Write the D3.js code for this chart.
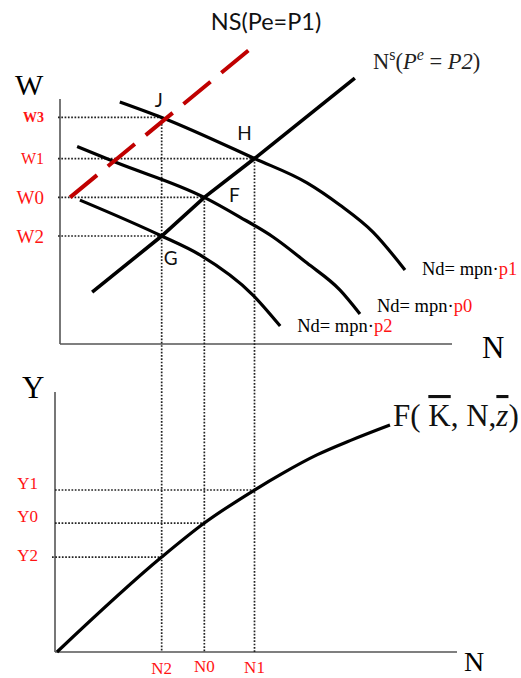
<!DOCTYPE html>
<html>
<head>
<meta charset="utf-8">
<script src="https://cdn.jsdelivr.net/npm/d3@7"></script>
<style>
  html, body { margin: 0; padding: 0; background: #fff; }
  svg { display: block; }
  .serif { font-family: "Liberation Serif", "Times New Roman", serif; }
  .sans { font-family: Lato, "Liberation Sans", Arial, sans-serif; }
</style>
</head>
<body>
<svg id="chart" width="521" height="678"></svg>
<script>
// ---- Labour market / production function data (abstract units 0..100) ----
const nNames  = ["N2", "N0", "N1"];
const nValues = [26.5, 37.3, 50];

const wNames  = ["W3", "W1", "W0", "W2"];
const wValues = [92.5, 75.8, 60, 44.3];

const yNames  = ["Y1", "Y0", "Y2"];
const yValues = [62.3, 49.6, 36.5];

// equilibrium points: [name, N index, W index]
const pointNames = ["J", "H", "F", "G"];
const pointN     = [0, 2, 1, 0];
const pointW     = [0, 1, 2, 3];

// labour demand curves Nd = mpn·p
const ndP1 = [[15.9, 98.8], [26.5, 92.5], [50, 75.8], [63.3, 65.9], [71.6, 56.9], [80, 45.9], [88.1, 30.5]];
const ndP0 = [[5.1, 80.7], [14.7, 74.4], [37.3, 60], [46.3, 52.0], [54.7, 43.9], [63.3, 33.3], [71.6, 22.4], [76.7, 12.6]];
const ndP2 = [[5.8, 58.9], [26.5, 44.3], [36.2, 36.6], [49.6, 20.3], [56.5, 7.7]];
const ndPrices = ["p1", "p0", "p2"];

// labour supply curves
const nsP2 = [[8.9, 21.5], [26.5, 44.3], [37.3, 60], [50, 75.8], [75.4, 108.5]];
const nsP1 = [[3.3, 60], [48.9, 120.3]];

// production function Y = F(K, N, z)
const prodF = [[0, 0], [26.5, 36.5], [37.3, 49.6], [50, 62.3], [57.2, 68.8], [65.8, 75.8], [74.2, 81.3], [84.3, 87.3]];

// ---- scales ----
const x  = d3.scaleLinear().domain([0, 100]).range([57, 452]);
const w  = d3.scaleLinear().domain([0, 100]).range([345, 99]);
const yS = d3.scaleLinear().domain([0, 100]).range([652, 392]);

const svg = d3.select("#chart");
const RED = "#ff1414";
const DOT = "#222";

// ---- axes ----
const topAxisX = 60, topAxisBottom = 344, topAxisTop = 99, topAxisRight = 452;
const botAxisX = 55, botAxisBottom = 652, botAxisTop = 392, botAxisRight = 457;
const axisG = svg.append("g").attr("stroke", "#555").attr("stroke-width", 1.6);
axisG.append("line").attr("x1", topAxisX).attr("x2", topAxisX).attr("y1", topAxisTop).attr("y2", topAxisBottom);
axisG.append("line").attr("x1", topAxisX).attr("x2", topAxisRight).attr("y1", topAxisBottom).attr("y2", topAxisBottom);
axisG.append("line").attr("x1", botAxisX).attr("x2", botAxisX).attr("y1", botAxisTop).attr("y2", botAxisBottom);
axisG.append("line").attr("x1", botAxisX).attr("x2", botAxisRight).attr("y1", botAxisBottom).attr("y2", botAxisBottom);

// ---- dotted guide lines ----
const guides = svg.append("g").attr("stroke", DOT).attr("stroke-width", 1.7)
  .attr("stroke-dasharray", "1.7 1.6").attr("fill", "none");
// horizontal wage guides to each equilibrium point
pointNames.forEach((p, i) => {
  guides.append("line")
    .attr("x1", topAxisX - 2).attr("x2", x(nValues[pointN[i]]))
    .attr("y1", w(wValues[pointW[i]])).attr("y2", w(wValues[pointW[i]]));
});
// vertical employment guides from the top equilibrium at each N down to the output axis
[["J", 0, 0], ["F", 1, 2], ["H", 2, 1]].forEach(([p, ni, wi]) => {
  guides.append("line")
    .attr("x1", x(nValues[ni])).attr("x2", x(nValues[ni]))
    .attr("y1", w(wValues[wi])).attr("y2", botAxisBottom);
});
// horizontal output guides
yValues.forEach((v, i) => {
  const ni = [2, 1, 0][i];
  guides.append("line")
    .attr("x1", botAxisX - (i === 2 ? 3 : 0)).attr("x2", x(nValues[ni]))
    .attr("y1", yS(v)).attr("y2", yS(v));
});

// ---- curves ----
const topLine = d3.line().x(d => x(d[0])).y(d => w(d[1]));
const topCurve = d3.line().x(d => x(d[0])).y(d => w(d[1])).curve(d3.curveMonotoneX);
const botCurve = d3.line().x(d => x(d[0])).y(d => yS(d[1])).curve(d3.curveMonotoneX);

const curves = svg.append("g").attr("fill", "none").attr("stroke", "#000")
  .attr("stroke-width", 3.2).attr("stroke-linecap", "butt");
[ndP1, ndP0, ndP2].forEach(c => curves.append("path").attr("d", topCurve(c)));
curves.append("path").attr("d", topLine(nsP2)).attr("stroke-width", 3.6);
curves.append("path").attr("d", botCurve(prodF));

svg.append("path").attr("d", topLine(nsP1))
  .attr("fill", "none").attr("stroke", "#c00000").attr("stroke-width", 4)
  .attr("stroke-dasharray", "35 14");

// ---- axis titles ----
svg.append("text").attr("class", "serif").attr("x", 15).attr("y", 95)
  .attr("font-size", 30).text("W");
svg.append("text").attr("class", "serif").attr("x", 482).attr("y", 358)
  .attr("font-size", 31).text("N");
svg.append("text").attr("class", "serif").attr("x", 22).attr("y", 398)
  .attr("font-size", 31).text("Y");
svg.append("text").attr("class", "serif").attr("x", 464).attr("y", 671)
  .attr("font-size", 28).text("N");

// ---- level labels ----
const wSize = [14, 16, 19, 19];
const wBold = [true, false, false, false];
wNames.forEach((t, i) => {
  svg.append("text").attr("class", "serif")
    .attr("x", 44).attr("y", w(wValues[i])).attr("dy", "0.35em")
    .attr("text-anchor", "end").attr("font-size", wSize[i])
    .attr("font-weight", wBold[i] ? "bold" : "normal")
    .attr("fill", RED).text(t);
});
const yDy = [-7, -7, -2];
yNames.forEach((t, i) => {
  svg.append("text").attr("class", "serif")
    .attr("x", 38).attr("y", yS(yValues[i]) + yDy[i]).attr("dy", "0.35em")
    .attr("text-anchor", "end").attr("font-size", 17)
    .attr("fill", RED).text(t);
});
const nBase = [674, 672, 673];
nNames.forEach((t, i) => {
  svg.append("text").attr("class", "serif")
    .attr("x", x(nValues[i])).attr("y", nBase[i])
    .attr("text-anchor", "middle").attr("font-size", 17)
    .attr("fill", RED).text(t);
});

// ---- equilibrium point letters ----
const ptDx = [-3, -10, 30, 9];
const ptDy = [-10, -19, 5, 29];
pointNames.forEach((p, i) => {
  svg.append("text").attr("class", "sans")
    .attr("x", x(nValues[pointN[i]]) + ptDx[i]).attr("y", w(wValues[pointW[i]]) + ptDy[i])
    .attr("text-anchor", "middle").attr("font-size", 19).attr("fill", "#111").text(p);
});

// ---- curve labels ----
const ndEnds = [ndP1, ndP0, ndP2].map(c => c[c.length - 1]);
const ndDy = [5, -2, 6];
ndEnds.forEach((e, i) => {
  const t = svg.append("text").attr("class", "serif")
    .attr("x", x(e[0]) + 17).attr("y", w(e[1]) + ndDy[i]).attr("font-size", 18.5);
  t.append("tspan").attr("fill", "#000").text("Nd= mpn·");
  t.append("tspan").attr("fill", RED).text(ndPrices[i]);
});

svg.append("text").attr("class", "sans").attr("x", 266).attr("y", 30)
  .attr("text-anchor", "middle").attr("font-size", 23.5).attr("fill", "#111")
  .text("NS(Pe=P1)");

const ns = svg.append("text").attr("class", "serif").attr("x", 373).attr("y", 69)
  .attr("font-size", 22.5).attr("fill", "#222");
ns.append("tspan").text("N");
ns.append("tspan").attr("font-size", 16).attr("dy", -9).text("s");
ns.append("tspan").attr("dy", 9).text("(");
ns.append("tspan").attr("font-style", "italic").text("P");
ns.append("tspan").attr("font-style", "italic").attr("font-size", 16).attr("dy", -9).text("e");
ns.append("tspan").attr("dy", 9).text(" = ");
ns.append("tspan").attr("font-style", "italic").text("P2");
ns.append("tspan").text(")");

const fl = svg.append("text").attr("class", "serif").attr("x", 393).attr("y", 426)
  .attr("font-size", 31).attr("fill", "#111");
fl.append("tspan").text("F( ");
fl.append("tspan").style("text-decoration", "overline").text("K");
fl.append("tspan").text(", N,");
fl.append("tspan").attr("font-style", "italic").style("text-decoration", "overline").text("z");
fl.append("tspan").text(")");
</script>
</body>
</html>
